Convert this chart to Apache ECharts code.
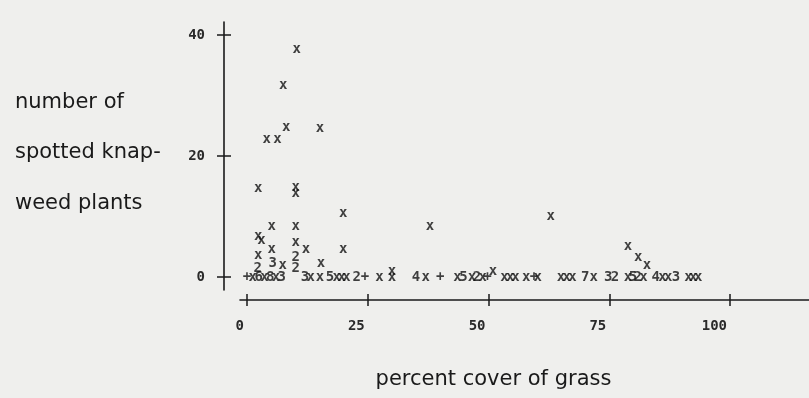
<!DOCTYPE html>
<html><head><meta charset="utf-8">
<script src="https://cdn.jsdelivr.net/npm/echarts@6/dist/echarts.min.js"></script>
<style>html,body{margin:0;padding:0;background:#efefed}#c{width:809px;height:398px}</style>
</head><body><div id="c"></div>
<script>
// percent cover of grass (x), number of spotted knapweed plants (y), printed plot symbol
const grassCover = [
  10.3, 7.5, 8.1, 15.1, 4.1, 6.3, 2.3, 10.1, 10.1, 19.9, 5.1, 10.1, 2.3, 3.0, 10.1, 5.1, 12.2, 19.9, 2.3, 10.1,
  5.3, 7.4, 15.3, 2.2, 10.1, 37.9, 62.9, 78.9, 81.0, 82.8, 30.0, 50.9,
  0, 1.2, 2.4, 3.6, 4.8, 6.0, 7.2, 12.0, 13.2, 15.1, 17.2, 18.6, 19.6, 20.6, 22.7, 24.4, 27.4, 30.0,
  35.0, 37.0, 40.0, 43.6, 44.8, 46.6, 47.6, 48.8, 49.8, 53.3, 54.5, 55.6, 57.8, 59.4, 60.2, 65.0,
  66.2, 67.4, 70.0, 71.8, 74.8, 76.2, 78.9, 79.9, 80.9, 82.1, 84.6, 86.0, 87.2, 88.8, 91.4, 92.4, 93.4
];
const plantCount = [
  37.7, 31.7, 24.7, 24.6, 22.8, 22.8, 14.7, 14.8, 13.8, 10.5, 8.4, 8.4, 6.7, 6.0, 5.8, 4.6, 4.6, 4.6, 3.6, 3.2,
  2.3, 2.0, 2.2, 1.5, 1.4, 8.3, 10.1, 5.1, 3.3, 2.0, 1.0, 0.9,
  0, 0, 0, 0, 0, 0, 0, 0, 0, 0, 0, 0, 0, 0, 0, 0, 0, 0,
  0, 0, 0, 0, 0, 0, 0, 0, 0, 0, 0, 0, 0, 0, 0, 0,
  0, 0, 0, 0, 0, 0, 0, 0, 0, 0, 0, 0, 0, 0, 0, 0, 0
];
const plotSymbol = [
  'x','x','x','x','x','x','x','x','x','x','x','x','x','x','x','x','x','x','x','2',
  '3','x','x','2','2','x','x','x','x','x','x','x',
  '+','x','6','x','8','x','3','3','x','x','5','x','x','x','2','+','x','x',
  '4','x','+','x','5','x','2','x','+','x','x','x','x','+','x','x',
  'x','x','7','x','3','2','x','5','2','x','4','x','x','3','x','x','x'
];
const xTickValues = [0, 25, 50, 75, 100];
const yTickValues = [0, 20, 40];
const xTitle = 'percent cover of grass';
const yTitle = 'number of\nspotted knap-\nweed plants';

const ink = '#1a1a1a';
const tickFont = {fontFamily: 'DejaVu Sans Mono', fontSize: 14, fontWeight: 'bold', color: '#2a2a2a'};
const points = grassCover.map((g, i) => [g, plantCount[i], plotSymbol[i]]);

const chart = echarts.init(document.getElementById('c'), null, {renderer: 'canvas'});
chart.setOption({
  backgroundColor: '#efefed',
  animation: false,
  title: {
    text: yTitle, left: 15, top: 77, padding: 0,
    textStyle: {fontFamily: 'DejaVu Sans', fontSize: 21, fontWeight: 'normal', color: ink, lineHeight: 50.5}
  },
  grid: [
    {left: 247, right: 79, top: 35, bottom: 121},
    {left: 224, width: 10, top: 22, bottom: 108},
    {left: 240, right: 0, top: 280, bottom: 98}
  ],
  xAxis: [
    {
      gridIndex: 0, type: 'value', min: xTickValues[0], max: xTickValues[xTickValues.length - 1], interval: 25,
      position: 'bottom', offset: 23,
      axisLine: {show: false, onZero: false}, splitLine: {show: false},
      axisTick: {show: true, length: 6, lineStyle: {color: ink, width: 1.5}},
      axisLabel: Object.assign({margin: 19, align: 'right', padding: [0, 3, 0, 0]}, tickFont),
      name: xTitle, nameLocation: 'middle', nameGap: 69,
      nameTextStyle: {fontFamily: 'DejaVu Sans', fontSize: 21, color: ink, padding: [0, 0, 0, 10]}
    },
    {
      gridIndex: 0, type: 'value', min: xTickValues[0], max: xTickValues[xTickValues.length - 1], interval: 25,
      position: 'bottom', offset: 23,
      axisLine: {show: false, onZero: false}, splitLine: {show: false},
      axisTick: {show: true, inside: true, length: 6, lineStyle: {color: ink, width: 1.5}},
      axisLabel: {show: false}
    },
    {gridIndex: 1, type: 'value', min: 0, max: 1, show: false},
    {
      gridIndex: 2, type: 'value', min: 0, max: 1, position: 'bottom',
      axisLine: {show: true, onZero: false, lineStyle: {color: ink, width: 1.6}},
      axisTick: {show: false}, axisLabel: {show: false}, splitLine: {show: false}
    }
  ],
  yAxis: [
    {
      gridIndex: 0, type: 'value', min: yTickValues[0], max: yTickValues[yTickValues.length - 1], interval: 20,
      position: 'left', offset: 23,
      axisLine: {show: false, onZero: false}, splitLine: {show: false},
      axisTick: {show: true, length: 7, lineStyle: {color: ink, width: 1.5}},
      axisLabel: Object.assign({margin: 19}, tickFont)
    },
    {
      gridIndex: 0, type: 'value', min: yTickValues[0], max: yTickValues[yTickValues.length - 1], interval: 20,
      position: 'left', offset: 23,
      axisLine: {show: false, onZero: false}, splitLine: {show: false},
      axisTick: {show: true, inside: true, length: 7, lineStyle: {color: ink, width: 1.5}},
      axisLabel: {show: false}
    },
    {
      gridIndex: 1, type: 'value', min: 0, max: 1, position: 'left',
      axisLine: {show: true, onZero: false, lineStyle: {color: ink, width: 1.6}},
      axisTick: {show: false}, axisLabel: {show: false}, splitLine: {show: false}
    },
    {gridIndex: 2, type: 'value', min: 0, max: 1, show: false}
  ],
  series: [{
    type: 'scatter', xAxisIndex: 0, yAxisIndex: 0, silent: true,
    symbol: 'circle', symbolSize: 1,
    itemStyle: {color: 'rgba(0,0,0,0)'},
    label: {
      show: true, position: 'inside',
      formatter: p => p.value[2],
      fontFamily: 'DejaVu Sans Mono', fontSize: 14, fontWeight: 'bold', color: '#111'
    },
    emphasis: {disabled: true},
    data: points
  }]
});
</script>
</body></html>
